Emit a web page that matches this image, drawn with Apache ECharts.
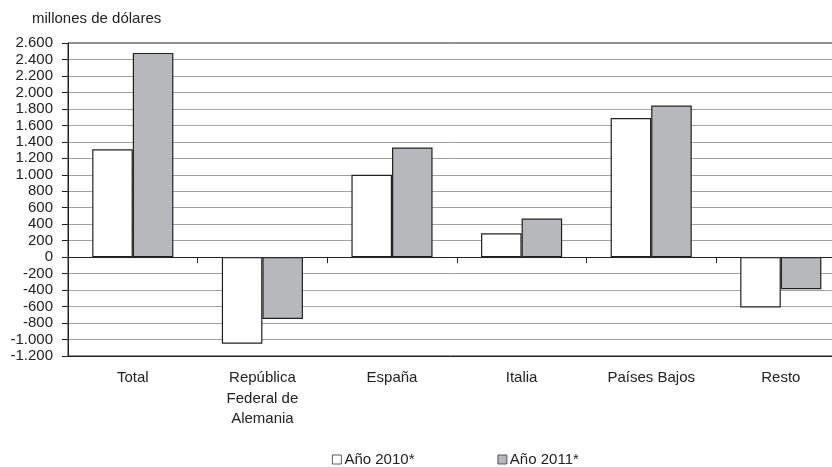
<!DOCTYPE html>
<html>
<head>
<meta charset="utf-8">
<script src="https://cdn.jsdelivr.net/npm/echarts@6/dist/echarts.min.js"></script>
<style>
html,body{margin:0;padding:0;background:#fff;}
#chart{width:832px;height:467px;}
</style>
</head>
<body>
<div id="chart"></div>
<script>
var categories = ['Total', 'República\nFederal de\nAlemania', 'España', 'Italia', 'Países Bajos', 'Resto'];
var seriesNames = ['Año 2010*', 'Año 2011*'];
var values2010 = [1310, -1050, 1000, 290, 1690, -610];
var values2011 = [2480, -750, 1330, 470, 1840, -390];
var yMin = -1200, yMax = 2600, yStep = 200;
var unitLabel = 'millones de dólares';

function fmt(v) {
  var neg = v < 0;
  var s = String(Math.abs(v));
  s = s.replace(/\B(?=(\d{3})+(?!\d))/g, '.');
  return (neg ? '-' : '') + s;
}

var FONT = 'Liberation Sans, Arial, sans-serif';
var chart = echarts.init(document.getElementById('chart'));
chart.setOption({
  animation: false,
  backgroundColor: '#ffffff',
  title: {
    text: unitLabel,
    left: 27, top: 6, padding: 5,
    textStyle: {fontFamily: FONT, fontSize: 15, fontWeight: 'normal', color: '#222'}
  },
  legend: {
    left: 332, top: 452, padding: 0,
    itemWidth: 9, itemHeight: 9, itemGap: 83,
    icon: 'rect',
    itemStyle: {borderWidth: 0.8, borderColor: '#333'},
    textStyle: {fontFamily: FONT, fontSize: 15, color: '#222', padding: [0, 0, 0, -2]},
    data: seriesNames
  },
  grid: {
    left: 68, top: 43, width: 777.6, height: 313,
    containLabel: false,
    outerBoundsMode: 'none',
    show: true, borderColor: '#222', borderWidth: 1, backgroundColor: 'transparent'
  },
  xAxis: [
    {
      type: 'category',
      data: categories,
      position: 'bottom',
      axisLine: {onZero: false, lineStyle: {color: '#222', width: 1}},
      axisTick: {show: false},
      axisLabel: {
        fontFamily: FONT, fontSize: 15, color: '#222',
        margin: 12, lineHeight: 20.5, verticalAlign: 'top', interval: 0
      },
      splitLine: {show: false}
    },
    {
      type: 'category',
      data: categories,
      position: 'bottom',
      axisLine: {onZero: true, lineStyle: {color: '#222', width: 1}},
      axisTick: {show: true, length: 6, lineStyle: {color: '#222'}},
      axisLabel: {show: false},
      splitLine: {show: false}
    }
  ],
  yAxis: {
    type: 'value',
    min: yMin, max: yMax, interval: yStep,
    axisLine: {show: true, lineStyle: {color: '#222', width: 1}},
    axisTick: {show: true, length: 6, lineStyle: {color: '#222'}},
    axisLabel: {
      fontFamily: FONT, fontSize: 15, color: '#222', margin: 15,
      showMinLabel: true, showMaxLabel: true, hideOverlap: false,
      formatter: function (v) { return fmt(v); }
    },
    splitLine: {show: true, showMinLine: false, showMaxLine: false, lineStyle: {color: '#a0a0a0', width: 1}}
  },
  series: [
    {
      name: seriesNames[0], type: 'bar', data: values2010, xAxisIndex: 0,
      barWidth: '31.3%', barGap: '0%',
      itemStyle: {color: '#ffffff', borderColor: '#222', borderWidth: 1.2}
    },
    {
      name: seriesNames[1], type: 'bar', data: values2011, xAxisIndex: 0,
      barWidth: '31.3%', barGap: '0%',
      itemStyle: {color: '#b7b8bb', borderColor: '#222', borderWidth: 1.2}
    }
  ]
});
</script>
</body>
</html>
